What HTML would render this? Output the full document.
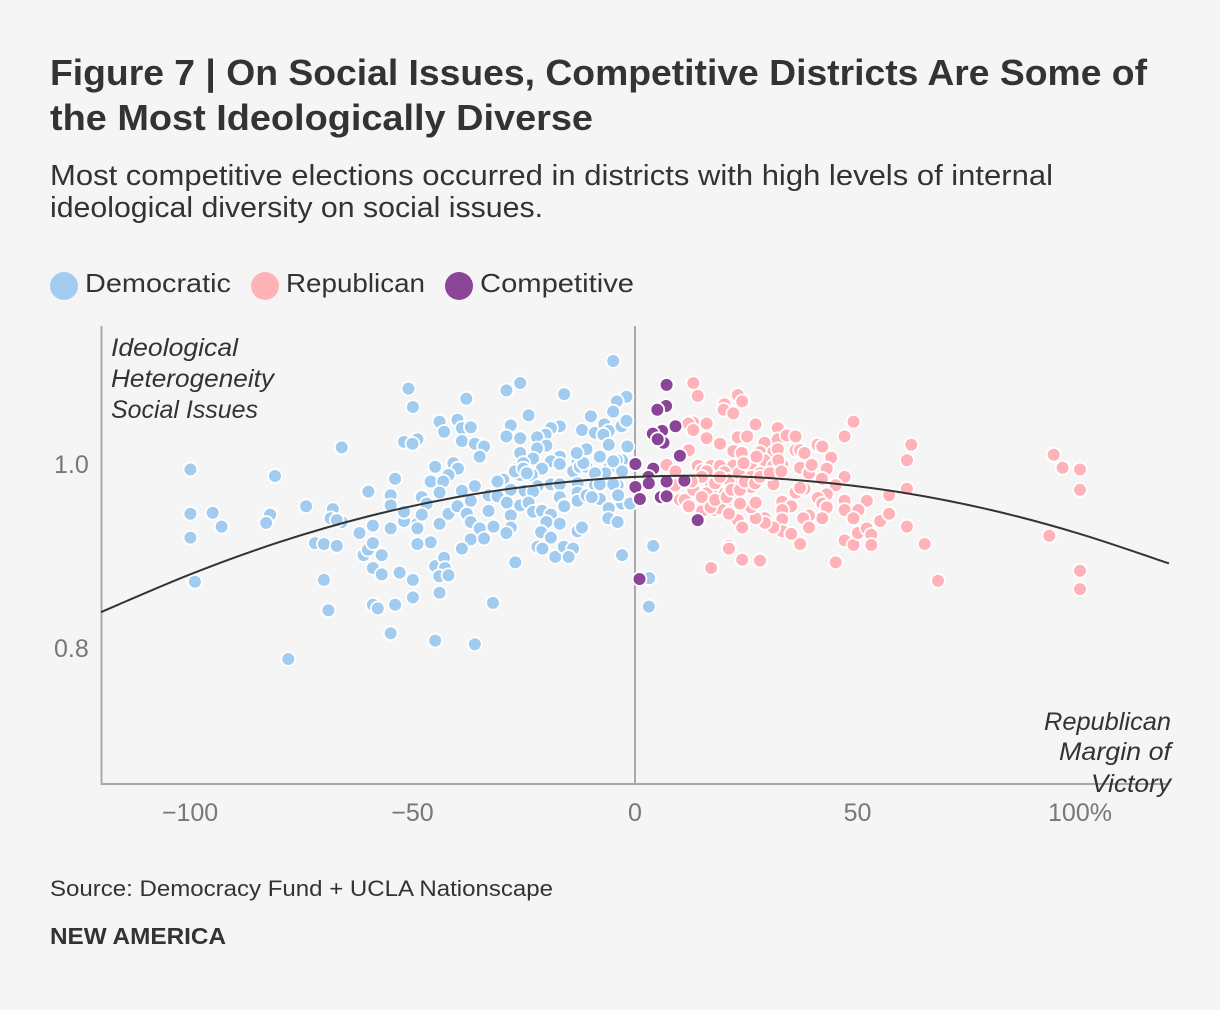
<!DOCTYPE html>
<html lang="en">
<head>
<meta charset="utf-8">
<title>Figure 7 | On Social Issues, Competitive Districts Are Some of the Most Ideologically Diverse</title>
<style>
html,body{margin:0;padding:0;background:#f5f5f5;width:1220px;height:1010px;overflow:hidden}
svg{display:block}
text{font-family:"Liberation Sans",sans-serif}
.lab{font-size:26px;fill:#333}
.it{font-size:25px;font-style:italic;fill:#333}
.tick{font-size:25px;fill:#777}
</style>
</head>
<body>
<svg id="chart" width="1220" height="1010" viewBox="0 0 1220 1010" xmlns="http://www.w3.org/2000/svg">
<rect x="0" y="0" width="1220" height="1010" fill="#f5f5f5"/>
<text x="50" y="85" font-size="36" font-weight="700" fill="#333" textLength="1097" lengthAdjust="spacingAndGlyphs">Figure 7 | On Social Issues, Competitive Districts Are Some of</text>
<text x="50" y="130" font-size="36" font-weight="700" fill="#333" textLength="543" lengthAdjust="spacingAndGlyphs">the Most Ideologically Diverse</text>
<text x="50" y="185" font-size="29" fill="#333" textLength="1003" lengthAdjust="spacingAndGlyphs">Most competitive elections occurred in districts with high levels of internal</text>
<text x="50" y="217" font-size="29" fill="#333" textLength="493" lengthAdjust="spacingAndGlyphs">ideological diversity on social issues.</text>

<g>
<circle cx="64" cy="286" r="14" fill="#a2ccef"/>
<text class="lab" x="85" y="292" textLength="146" lengthAdjust="spacingAndGlyphs">Democratic</text>
<circle cx="265" cy="286" r="14" fill="#ffb3b9"/>
<text class="lab" x="286" y="292" textLength="139" lengthAdjust="spacingAndGlyphs">Republican</text>
<circle cx="459" cy="286" r="14" fill="#8a4498"/>
<text class="lab" x="480" y="292" textLength="154" lengthAdjust="spacingAndGlyphs">Competitive</text>
</g>

<g id="axes"></g>
<g id="dots-dem"></g>
<g id="dots-rep"></g>
<g id="dots-comp"></g>
<path id="trend" fill="none" stroke="#333" stroke-width="2"/>

<g>
<text class="it" x="111" y="356" textLength="127" lengthAdjust="spacingAndGlyphs">Ideological</text>
<text class="it" x="111" y="387" textLength="163" lengthAdjust="spacingAndGlyphs">Heterogeneity</text>
<text class="it" x="111" y="418" textLength="147" lengthAdjust="spacingAndGlyphs">Social Issues</text>
</g>
<g>
<text class="it" x="1044" y="730" textLength="127" lengthAdjust="spacingAndGlyphs">Republican</text>
<text class="it" x="1059" y="760" textLength="112" lengthAdjust="spacingAndGlyphs">Margin of</text>
<text class="it" x="1091" y="792" textLength="80" lengthAdjust="spacingAndGlyphs">Victory</text>
</g>

<text x="50" y="896" font-size="22" fill="#333" textLength="503" lengthAdjust="spacingAndGlyphs">Source: Democracy Fund + UCLA Nationscape</text>
<text x="50" y="944" font-size="23" font-weight="700" fill="#333" textLength="176" lengthAdjust="spacingAndGlyphs">NEW AMERICA</text>
</svg>

<script>
const xTicks = [-100, -50, 0, 50, 100];
const xTickLabels = ["\u2212100", "\u221250", "0", "50", "100%"];
const yTicks = [0.8, 1.0];
const yTickLabels = ["0.8", "1.0"];

const demMargin = [-99.9,-99.9,-94.9,-92.9,-99.9,-98.9,-80.9,-82,-82.9,-73.9,-65.9,-67.9,-68.4,-65.9,-67,-71.9,-69.9,-67,-61.9,-69.9,-68.9,-77.9,-61,-60,-58.9,-58.9,-60,-58.9,
-4.9,-50.9,-25.8,-28.9,-15.9,-37.9,-49.9,-1.9,-4.1,-4.9,-23.9,-9.9,-43.9,-39.9,-42.9,-38.9,-36.9,-38.9,-51.9,-48.9,-50,-27.9,-28.9,-25.8,-16.9,-18.9,-20.1,-22,-11.9,-9,-6.9,-5.9,-7.1,-3,-1.9,-1.7,-5.9,-19.9,-22,-34.9,-36,-33.9,-34.9,-25.8,-11.9,-10.9,-16.9,-18.9,-16.9,-22.9,-20.9,-12.9,-13.9,-12.4,-7.9,-2.9,-4.1,-2.9,-7.9,-6,-12.9,-6.7,-4.9,-10.9,-11.6,-13.1,-9,-9,-26.6,-25.1,-27,-23.2,-29.6,-25.8,-27,-25.1,-24.3,-44.9,-40.8,-39.8,-41.9,-53.9,-45.9,-43.1,-43.9,-36,-30.9,-38.9,-59.9,-54.9,-54.9,-47.9,-46.8,-36.9,-39.9,-32.9,-30.9,-27.9,-24.8,-21.9,-18.9,-16.9,-22.9,-28.8,-25.8,-23.9,-16.9,-15.9,-20.9,-12.9,-12.9,-10.9,-7.9,-7.9,-9.7,-3.9,-4.9,-2.9,-5.9,-3.8,-1.1,
-58.9,-54.9,-51.9,-51.9,-48.9,-48.9,-47.9,-43.9,-41.9,-39.9,-37.8,-36.9,-32.9,-34.9,-36.9,-33.9,-31.8,-38.9,-45.9,-48.9,-27.9,-27.9,-28.9,-26.9,-22.9,-20.9,-18.9,-19.9,-16.9,-21.1,-18.9,-21.9,-20.8,-17.9,-16,-13.9,-14.9,-12.9,-11.9,-15.9,-6,-3.9,-2.9,4.1,3.2,3.1,-31.9,-36,-44.9,-54.9,-58.9,-57.8,-53.9,-49.9,-43.9,-49.9,-52.9,-56.9,-44.9,-42.9,-42.7,-44,-41.9,-56.9,-58.9];
const demScore = [0.994,0.946,0.947,0.932,0.920,0.872,0.987,0.945,0.936,0.954,1.018,0.951,0.941,0.937,0.939,0.914,0.913,0.911,0.925,0.874,0.841,0.788,0.901,0.907,0.887,0.847,0.970,0.933,
1.112,1.082,1.088,1.080,1.076,1.071,1.062,1.073,1.068,1.057,1.053,1.052,1.046,1.048,1.035,1.039,1.040,1.025,1.024,1.027,1.022,1.042,1.030,1.028,1.041,1.039,1.032,1.029,1.037,1.034,1.043,1.036,1.032,1.041,1.047,1.019,1.021,1.020,1.017,1.021,1.022,1.019,1.008,1.012,1.015,1.016,1.008,1.003,1.000,1.006,0.995,1.003,0.992,0.997,1.008,1.004,1.004,0.992,0.991,0.995,0.979,0.990,1.003,0.997,1.001,1.012,0.990,0.977,0.995,1.001,0.990,0.988,0.983,0.988,0.992,0.995,0.990,0.997,1.001,0.995,0.988,0.984,0.981,0.981,0.969,0.976,0.981,0.971,0.970,0.966,0.955,0.964,0.957,0.960,0.955,0.966,0.965,0.972,0.971,0.976,0.978,0.978,0.970,0.958,0.955,0.958,0.964,0.955,0.950,0.969,0.960,0.966,0.978,0.962,0.964,0.977,0.978,0.957,0.952,0.966,0.957,
0.933,0.930,0.938,0.948,0.935,0.930,0.945,0.935,0.946,0.954,0.946,0.937,0.949,0.930,0.918,0.919,0.932,0.908,0.915,0.913,0.944,0.931,0.925,0.893,0.948,0.949,0.945,0.937,0.935,0.926,0.920,0.910,0.908,0.899,0.910,0.908,0.899,0.927,0.931,0.954,0.941,0.937,0.901,0.911,0.876,0.845,0.849,0.804,0.808,0.816,0.847,0.843,0.847,0.855,0.860,0.874,0.882,0.880,0.889,0.898,0.887,0.878,0.879,0.901,0.914];

const repMargin = [13.1,14.1,23.1,24.1,20.1,19.9,22.1,13.1,12,16.1,13.1,27.1,32.1,49.1,47.1,16.1,19.1,23.1,25.2,29.1,32.1,34.1,36.1,22.1,24,12.1,28.1,31.1,32.1,36.1,37.1,38.1,41,42.1,44.1,7.1,9.1,14.1,15.1,17.1,19.1,22.1,16.1,20.1,24.1,26.1,29.1,31.1,33.1,32.2,37.1,39.1,39.7,43.1,42,28.1,26.1,26.1,31.1,23.2,27.7,13.1,17.1,21.1,47.1,45.1,38.1,36.1,37.1,43.1,41.1,42.1,43.1,47.1,47.1,52.1,50.2,49.1,42.1,39.1,37.8,39.1,37.1,33.1,35.1,33.1,33.1,33.1,35.1,31.1,29.2,29.2,27.1,26.1,27.1,23.1,24.1,21.1,21.1,24.1,28.1,17.1,45.1,47.1,49.1,50.1,52.1,53.1,53.1,55.1,19.1,20.2,21.3,22.1,16.1,10.1,11.2,12.1,15.1,15.1,18,19.1,21.1,23.2,9,13.1,
23.3,15,17,23.6,18,20.6,21.7,18,23.6,24.7,27,28.1,15,19.1,12.7,27.3,24.4,30.3,32.9,
62.1,61.1,61.1,57.1,57.1,61.1,65.1,68.1,94.1,96.1,100,100,93.1,100,100];
const repScore = [1.088,1.074,1.075,1.068,1.065,1.059,1.055,1.045,1.044,1.044,1.037,1.043,1.039,1.046,1.030,1.028,1.022,1.029,1.030,1.023,1.027,1.031,1.030,1.014,1.012,1.015,1.013,1.013,1.016,1.015,1.015,1.012,1.021,1.019,1.007,0.999,0.992,0.998,0.993,0.998,0.998,0.998,0.992,0.991,0.993,1.000,1.004,0.998,0.999,1.004,0.996,0.990,0.999,0.995,0.984,0.990,0.986,0.975,0.978,0.984,0.981,0.981,0.977,0.983,0.986,0.977,0.973,0.969,0.974,0.967,0.963,0.957,0.953,0.960,0.950,0.960,0.950,0.941,0.941,0.944,0.941,0.931,0.913,0.959,0.954,0.950,0.940,0.927,0.924,0.931,0.941,0.936,0.941,0.953,0.958,0.939,0.931,0.911,0.908,0.896,0.895,0.887,0.893,0.917,0.912,0.925,0.930,0.923,0.912,0.938,0.971,0.968,0.970,0.961,0.968,0.961,0.961,0.954,0.949,0.963,0.950,0.952,0.946,0.959,0.977,0.972,
0.990,0.964,0.953,0.957,0.961,0.964,0.972,0.979,0.972,0.981,0.979,0.986,0.986,0.986,0.981,1.008,1.001,0.990,0.992,
1.021,1.004,0.973,0.966,0.946,0.932,0.913,0.873,1.010,0.996,0.994,0.972,0.922,0.884,0.864];

const compMargin = [7.1,7,5,9.1,6.1,4,6.4,5.1,10.1,0.1,4.1,3,3.1,7.1,11.1,0.1,5.8,7.1,1.1,14.1,1];
const compScore = [1.086,1.063,1.059,1.041,1.036,1.033,1.023,1.027,1.009,1.000,0.995,0.986,0.979,0.981,0.982,0.975,0.964,0.965,0.962,0.939,0.875];

const trendX = [-120,-100,-80,-60,-40,-20,0,20,40,60,80,100,120];
const trendY = [0.839,0.880,0.915,0.943,0.964,0.978,0.986,0.987,0.981,0.969,0.950,0.924,0.892];

const SVG_NS = "http://www.w3.org/2000/svg";
function xScale(v){ return 635 + v * 4.45; }
function yScale(v){ return 464 + (1 - v) * 920; }

const axes = document.getElementById("axes");
function axisLine(x1, y1, x2, y2, name){
  const l = document.createElementNS(SVG_NS, "line");
  l.setAttribute("x1", x1);
  l.setAttribute("y1", y1);
  l.setAttribute("x2", x2);
  l.setAttribute("y2", y2);
  l.setAttribute("stroke", "#aaa");
  l.setAttribute("stroke-width", "2");
  
  
  axes.appendChild(l);
}
axisLine(xScale(-120) + 0.5, 326, xScale(-120) + 0.5, 785, "y-axis-line");
axisLine(xScale(-120), 784, xScale(120), 784, "x-axis-line");
axisLine(xScale(0), 326, xScale(0), 785, "zero-margin-line");

xTicks.forEach(function(v, i){
  const t = document.createElementNS(SVG_NS, "text");
  t.setAttribute("class", "tick");
  t.setAttribute("x", xScale(v));
  t.setAttribute("y", 821);
  t.setAttribute("text-anchor", "middle");
  
  
  t.textContent = xTickLabels[i];
  axes.appendChild(t);
});
yTicks.forEach(function(v, i){
  const t = document.createElementNS(SVG_NS, "text");
  t.setAttribute("class", "tick");
  t.setAttribute("x", 54);
  t.setAttribute("y", yScale(v) + 9);
  
  
  t.textContent = yTickLabels[i];
  axes.appendChild(t);
});

function drawDots(groupId, xs, ys, color, name){
  const g = document.getElementById(groupId);
  xs.forEach(function(v, i){
    const c = document.createElementNS(SVG_NS, "circle");
    c.setAttribute("cx", xScale(v).toFixed(1));
    c.setAttribute("cy", yScale(ys[i]).toFixed(1));
    c.setAttribute("r", "6.9");
    c.setAttribute("fill", color);
    c.setAttribute("stroke", "#fff");
    c.setAttribute("stroke-width", "1.8");
    
    
    g.appendChild(c);
  });
}
drawDots("dots-dem", demMargin, demScore, "#a2ccef", "democratic-district-point");
drawDots("dots-rep", repMargin, repScore, "#ffb3b9", "republican-district-point");
drawDots("dots-comp", compMargin, compScore, "#8a4498", "competitive-district-point");

function trendPath(){
  const p = trendX.map(function(v, i){ return [xScale(v), yScale(trendY[i])]; });
  let d = "M" + p[0][0].toFixed(1) + " " + p[0][1].toFixed(1);
  for (let i = 0; i < p.length - 1; i++){
    const p0 = p[Math.max(i - 1, 0)], p1 = p[i], p2 = p[i + 1], p3 = p[Math.min(i + 2, p.length - 1)];
    const c1x = p1[0] + (p2[0] - p0[0]) / 6, c1y = p1[1] + (p2[1] - p0[1]) / 6;
    const c2x = p2[0] - (p3[0] - p1[0]) / 6, c2y = p2[1] - (p3[1] - p1[1]) / 6;
    d += "C" + c1x.toFixed(1) + " " + c1y.toFixed(1) + " " + c2x.toFixed(1) + " " + c2y.toFixed(1) + " " + p2[0].toFixed(1) + " " + p2[1].toFixed(1);
  }
  return d;
}
document.getElementById("trend").setAttribute("d", trendPath());
</script>
</body>
</html>
